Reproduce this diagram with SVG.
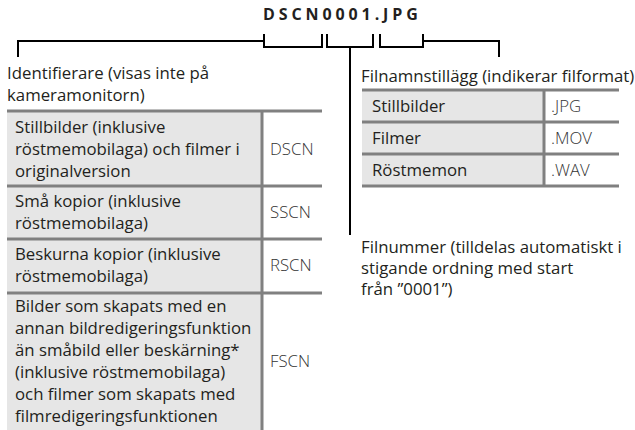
<svg xmlns="http://www.w3.org/2000/svg" width="635" height="430" viewBox="0 0 635 430">
<style>
  text { font-family: "Open Sans", "Noto Sans", "Liberation Sans", sans-serif; font-size: 16.8px; fill: #231f20; }
  .title { font-weight: 700; font-size: 16px; letter-spacing: 3.9px; }
  .code { font-weight: 300; fill: #333333; }
  .cell { fill: #e6e6e6; }
  .white { fill: #ffffff; }
  .rule { stroke: #808080; stroke-width: 3; fill: none; }
  .br { stroke: #000000; stroke-width: 2; fill: none; }
</style>
<rect width="635" height="430" fill="#ffffff"/>

<g id="title"><text class="title" x="263" y="20">DSCN0001.JPG</text></g>

<g id="connectors">
  <path class="br" d="M18,57 V41 H264"/>
  <path class="br" d="M264,34 V47 H322 V34"/>
  <path class="br" d="M327,34 V47 H373 V34"/>
  <path class="br" d="M350,47 V235"/>
  <path class="br" d="M380,34 V47 H423 V34"/>
  <path class="br" d="M423,41 H499 V57"/>
</g>

<g id="identifier-label">
  <text x="7" y="79">Identifierare (visas inte på</text>
  <text x="7" y="101">kameramonitorn)</text>
</g>

<g id="extension-label">
  <text x="361" y="82">Filnamnstillägg (indikerar filformat)</text>
</g>

<g id="filenumber-label">
  <text x="361" y="253">Filnummer (tilldelas automatiskt i</text>
  <text x="361" y="274">stigande ordning med start</text>
  <text x="361" y="295">från ”0001”)</text>
</g>

<g id="identifier-table">
  <rect class="cell" x="7" y="110" width="255" height="320"/>
  <rect class="white" x="262" y="110" width="60" height="320"/>
  <path class="rule" d="M7,111 H322 M7,186 H322 M7,239 H322 M7,293 H322 M262,111 V430"/>
  <g id="row-dscn">
    <text x="15" y="133">Stillbilder (inklusive</text>
    <text x="15" y="155">röstmemobilaga) och filmer i</text>
    <text x="15" y="177">originalversion</text>
    <text class="code" x="270" y="155">DSCN</text>
  </g>
  <g id="row-sscn">
    <text x="15" y="207">Små kopior (inklusive</text>
    <text x="15" y="229">röstmemobilaga)</text>
    <text class="code" x="270" y="218">SSCN</text>
  </g>
  <g id="row-rscn">
    <text x="15" y="260">Beskurna kopior (inklusive</text>
    <text x="15" y="282">röstmemobilaga)</text>
    <text class="code" x="270" y="271">RSCN</text>
  </g>
  <g id="row-fscn">
    <text x="15" y="312">Bilder som skapats med en</text>
    <text x="15" y="334">annan bildredigeringsfunktion</text>
    <text x="15" y="356">än småbild eller beskärning*</text>
    <text x="15" y="378">(inklusive röstmemobilaga)</text>
    <text x="15" y="400">och filmer som skapats med</text>
    <text x="15" y="422">filmredigeringsfunktionen</text>
    <text class="code" x="270" y="367">FSCN</text>
  </g>
</g>

<g id="extension-table">
  <rect class="cell" x="362" y="90" width="182" height="96"/>
  <rect class="white" x="544" y="90" width="75" height="96"/>
  <path class="rule" d="M362,90 H619 M362,122 H619 M362,154 H619 M362,186 H619 M544,90 V186"/>
  <g id="row-jpg">
    <text x="372" y="112">Stillbilder</text>
    <text class="code" x="551" y="112">.JPG</text>
  </g>
  <g id="row-mov">
    <text x="372" y="144">Filmer</text>
    <text class="code" x="551" y="144">.MOV</text>
  </g>
  <g id="row-wav">
    <text x="372" y="176">Röstmemon</text>
    <text class="code" x="551" y="176">.WAV</text>
  </g>
</g>
</svg>
